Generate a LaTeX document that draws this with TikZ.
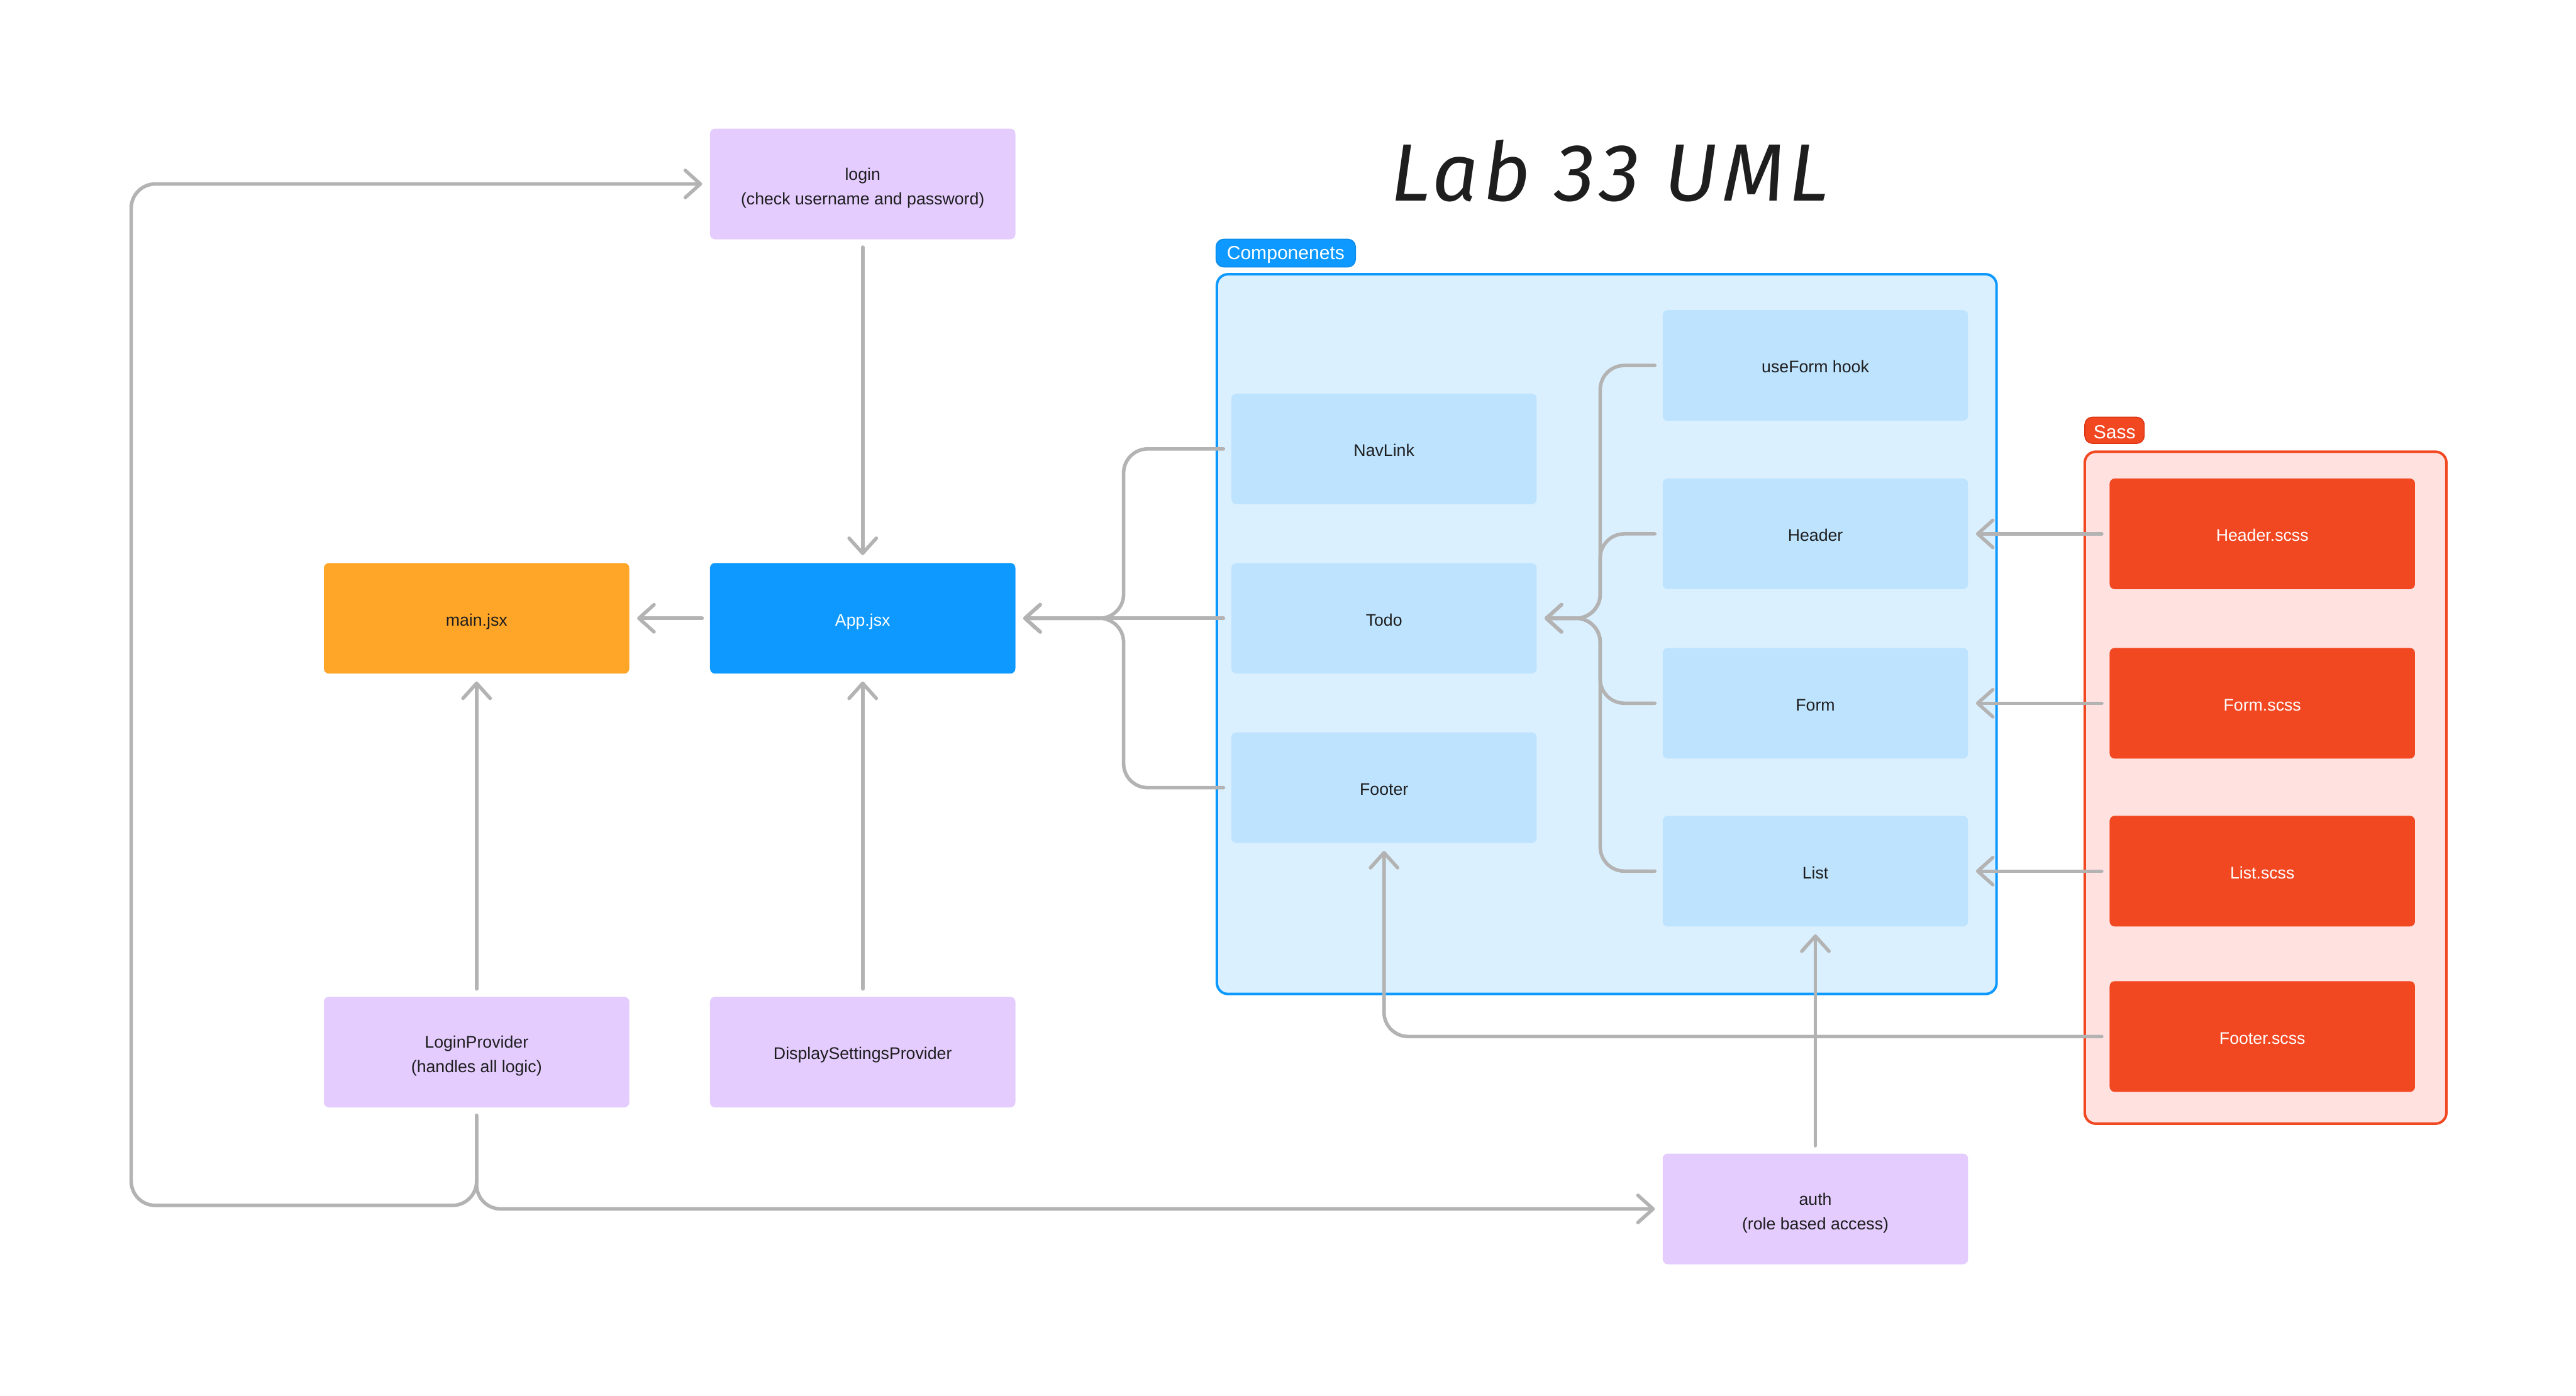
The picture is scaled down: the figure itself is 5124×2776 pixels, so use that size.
\documentclass[tikz,border=0pt]{standalone}
\usepackage{fontspec}
\setmainfont{Liberation Sans}
\newfontfamily\titlefont{Fira Sans}[LetterSpace=5]
\usetikzlibrary{arrows.meta}
\definecolor{lav}{HTML}{E4CCFF}
\definecolor{orng}{HTML}{FFA629}
\definecolor{blu}{HTML}{0D99FF}
\definecolor{bludark}{HTML}{0C8CE9}
\definecolor{cfill}{HTML}{DBF0FF}
\definecolor{cbox}{HTML}{BDE3FF}
\definecolor{sfill}{HTML}{FFE2E0}
\definecolor{sred}{HTML}{F24822}
\definecolor{sreddark}{HTML}{DC3412}
\definecolor{gry}{HTML}{B3B3B3}
\definecolor{ink}{HTML}{1E1E1E}
\newcommand{\topstrut}{\rule[-2.1pt]{0pt}{13.6pt}}
\newcommand{\botstrut}{\rule[-2.1pt]{0pt}{2.1pt}}
\tikzset{
  box/.style={minimum width=6.07cm, minimum height=2.2cm, rounded corners=0.1cm,
    inner sep=0pt, align=center, font=\fontsize{9.5}{13.9}\selectfont, text=ink,
    execute at begin node={\rule[-2.1pt]{0pt}{12.6pt}},
    execute at end node={\rule[-2.1pt]{0pt}{2.1pt}}},
  lavbox/.style={box, fill=lav},
  compbox/.style={box, fill=cbox},
  scssbox/.style={box, fill=sred, text=white},
  container/.style={line width=0.05cm, rounded corners=0.22cm, inner sep=0pt},
  tag/.style={rounded corners=0.15cm, text=white, inner sep=0pt, line width=0.02cm,
    font=\fontsize{10.7}{12}\selectfont, execute at begin node={\rule{0pt}{9.4pt}}},
  conn/.style={draw=gry, line width=0.07cm, line cap=round, line join=round,
    rounded corners=0.48cm, shorten <=0.15cm},
  arrowed/.style={-{Straight Barb[length=0.3cm,width=0.54cm,round]}, shorten >=0.15cm}
}
\begin{document}
\begin{tikzpicture}[x=0.01cm,y=-0.01cm]
\useasboundingbox (0,0) rectangle (5124,2776);
\fill[white] (0,0) rectangle (5124,2776);

% title
\node[font=\titlefont\fontsize{46}{50}\selectfont\itshape, text=ink] (title) at (3202,340) {Lab 33 UML};

% containers
\node[container, draw=blu, fill=cfill, minimum width=15.5cm, minimum height=14.31cm] (comp) at (3196,1261.5) {};
\node[tag, fill=blu, draw=bludark, minimum width=2.77cm, minimum height=0.55cm] (complbl) at (2557.5,503.5) {Componenets};
\node[container, draw=sred, fill=sfill, minimum width=7.19cm, minimum height=13.36cm] (sass) at (4506.5,1567) {};
\node[tag, fill=sred, draw=sreddark, minimum width=1.18cm, minimum height=0.52cm] (sasslbl) at (4206,856) {Sass};

% left nodes
\node[lavbox] (login) at (1716,366) {\topstrut login\\(check username and password)\botstrut};
\node[box, fill=blu, text=white] (app) at (1716,1230) {App.jsx};
\node[box, fill=orng] (main) at (948,1230) {main.jsx};
\node[lavbox] (lp) at (948,2093) {\topstrut LoginProvider\\(handles all logic)\botstrut};
\node[lavbox] (dsp) at (1716,2093) {DisplaySettingsProvider};
\node[lavbox] (auth) at (3611,2405) {\topstrut auth\\(role based access)\botstrut};

% components
\node[compbox] (navlink) at (2753,893) {NavLink};
\node[compbox] (todo) at (2753,1230) {Todo};
\node[compbox] (footer) at (2753,1567) {Footer};
\node[compbox] (useform) at (3611,727) {useForm hook};
\node[compbox] (header) at (3611,1062) {Header};
\node[compbox] (form) at (3611,1399) {Form};
\node[compbox] (list) at (3611,1733) {List};

% sass
\node[scssbox] (headerscss) at (4500,1062) {Header.scss};
\node[scssbox] (formscss) at (4500,1399) {Form.scss};
\node[scssbox] (listscss) at (4500,1733) {List.scss};
\node[scssbox] (footerscss) at (4500,2062) {Footer.scss};

% helper coordinates
\coordinate (bx) at (2235,0);
\coordinate (bx2) at (3183,0);
\coordinate (lpl) at (261,2398);

% connectors
\draw[conn,arrowed] (login.south) -- (app.north);
\draw[conn,arrowed] (app.west) -- (main.east);
\draw[conn,arrowed] (lp.north) -- (main.south);
\draw[conn,arrowed] (dsp.north) -- (app.south);

\draw[conn,arrowed] (navlink.west) -- (navlink.west -| bx) -- (todo.west -| bx) -- (app.east);
\draw[conn,arrowed] (footer.west) -- (footer.west -| bx) -- (todo.west -| bx) -- (app.east);
\draw[conn,arrowed] (todo.west) -- (app.east);

\draw[conn,arrowed] (useform.west) -- (useform.west -| bx2) -- (todo.east -| bx2) -- (todo.east);
\draw[conn,arrowed] (header.west) -- (header.west -| bx2) -- (todo.east -| bx2) -- (todo.east);
\draw[conn,arrowed] (form.west) -- (form.west -| bx2) -- (todo.east -| bx2) -- (todo.east);
\draw[conn,arrowed] (list.west) -- (list.west -| bx2) -- (todo.east -| bx2) -- (todo.east);

\draw[conn,arrowed] (headerscss.west) -- (header.east);
\draw[conn,arrowed] (formscss.west) -- (form.east);
\draw[conn,arrowed] (listscss.west) -- (list.east);
\draw[conn,arrowed] (footerscss.west) -| (footer.south);
\draw[conn,arrowed] (auth.north) -- (list.south);

\draw[conn,arrowed] (lp.south) |- (lpl) |- (login.west);
\draw[conn,arrowed] (lp.south) |- (auth.west);
\end{tikzpicture}
\end{document}
